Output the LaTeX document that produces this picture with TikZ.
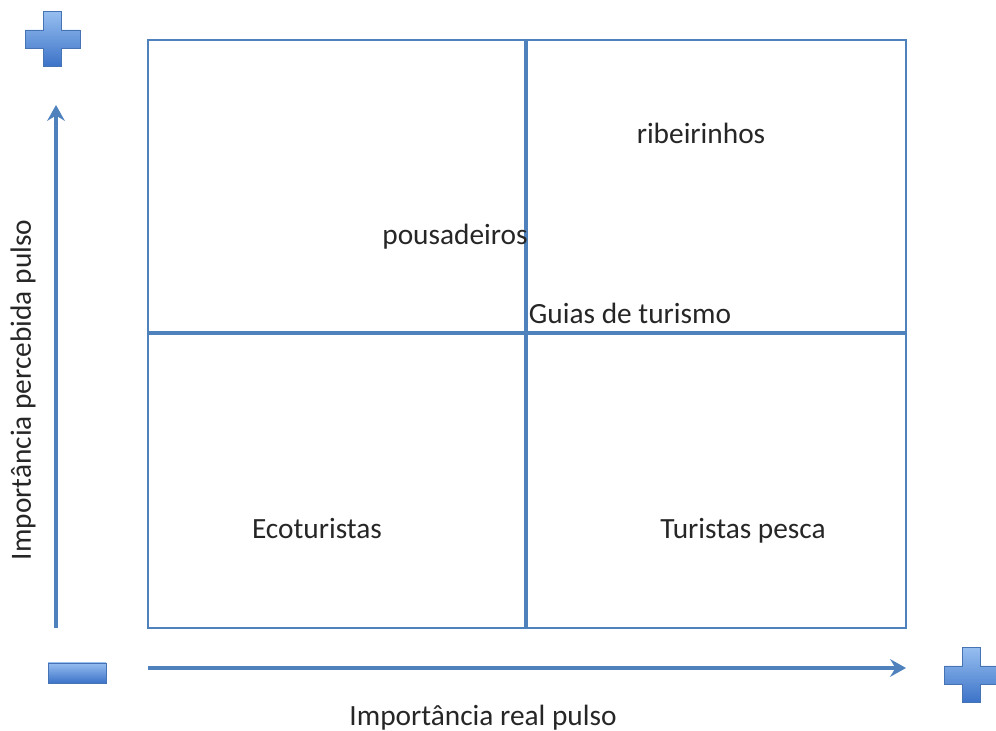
\documentclass[tikz,border=0pt]{standalone}
\usepackage{fontspec}
\setmainfont{Carlito}
\usetikzlibrary{arrows.meta}
\definecolor{gridblue}{RGB}{79,129,189}
\definecolor{icontop}{RGB}{150,190,240}
\definecolor{iconbot}{RGB}{60,115,200}
\definecolor{iconline}{RGB}{70,115,180}
\tikzset{
    gridline/.style={draw=gridblue,line width=1.8pt},
    axisline/.style={draw=gridblue,line width=2.2pt,-{Stealth[length=9pt,width=10pt,inset=3pt]}},
    label/.style={font=\fontsize{16.7}{19}\selectfont,text=black!85,inner sep=0pt},
    icon/.style={top color=icontop,bottom color=iconbot,draw=iconline,line width=0.4pt},
    plussign/.pic={
        \path[icon] (-0.18,0.55) -- (0.18,0.55) -- (0.18,0.18) -- (0.55,0.18) -- (0.55,-0.18)
            -- (0.18,-0.18) -- (0.18,-0.55) -- (-0.18,-0.55) -- (-0.18,-0.18) -- (-0.55,-0.18)
            -- (-0.55,0.18) -- (-0.18,0.18) -- cycle;
    },
    minussign/.pic={
        \path[icon] (-0.58,-0.2) rectangle (0.58,0.2);
    }
}

\begin{document}
\begin{tikzpicture}
    \useasboundingbox (0,0) rectangle (19.92,14.62);

    % Quadrants
    \draw[draw=gridblue,line width=1.1pt] (2.96,2.06) rectangle (18.12,13.82);
    \draw[gridline] (10.52,2.06) -- (10.52,13.82);
    \draw[gridline] (2.96,7.96) -- (18.12,7.96);

    % Axis
    \coordinate (ystart) at (1.12,2.06);
    \coordinate (yend) at (1.12,12.52);
    \coordinate (xstart) at (2.96,1.26);
    \coordinate (xend) at (18.12,1.26);
    \draw[axisline] (ystart) -- (yend);
    \draw[axisline] (xstart) -- (xend);
    \node[label,rotate=90] (ylabel) at (0.46,6.82) {Importância percebida pulso};
    \node[label] (xlabel) at (9.66,0.26) {Importância real pulso};

    % Signs
    \pic at (1.05,13.84) {plussign};
    \pic at (1.54,1.16) {minussign};
    \pic at (19.43,1.12) {plussign};

    % Actors
    \node[label] (ribeirinhos) at (14.02,11.96) {ribeirinhos};
    \node[label] (pousadeiros) at (9.10,9.88) {pousadeiros};
    \node[label] (guias) at (12.60,8.36) {Guias de turismo};
    \node[label] (ecoturistas) at (6.34,4.04) {Ecoturistas};
    \node[label] (pesca) at (14.86,4.00) {Turistas pesca};
\end{tikzpicture}
\end{document}
